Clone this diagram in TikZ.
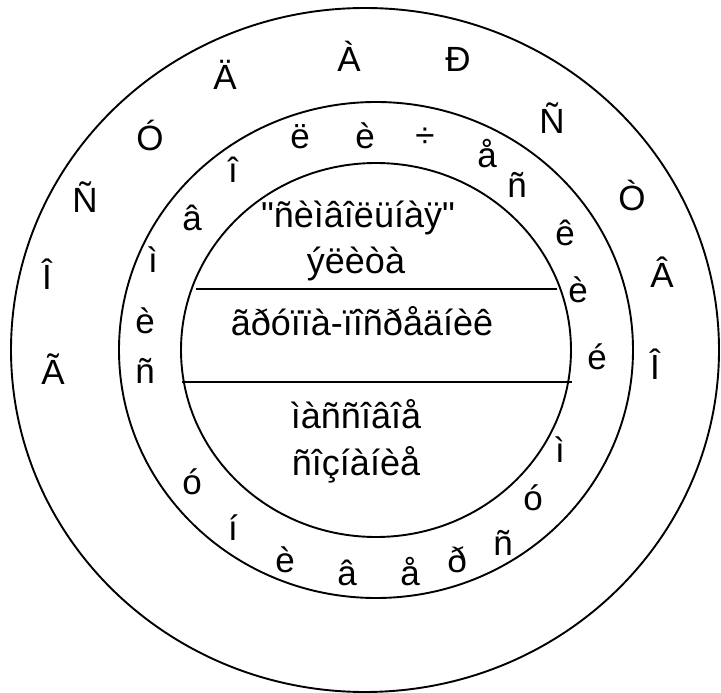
\documentclass[tikz,border=0pt]{standalone}
\usepackage{fontspec}
\setmainfont{Liberation Sans}[Ligatures=TeXOff]
\tikzset{
  ring/.style={line width=1.9pt},
  lbl/.style={anchor=base, inner sep=0pt, font=\fontsize{35}{40}\selectfont},
  centertext/.style={anchor=base, inner sep=0pt, font=\fontsize{36}{40}\selectfont},
}
\begin{document}
\begin{tikzpicture}[x=1pt,y=-1pt]
\useasboundingbox (0,0) rectangle (721,693);
% rings
\draw[ring] (365,350) ellipse [x radius=354pt, y radius=342pt];
\draw[ring] (376,350) ellipse [x radius=257pt, y radius=248pt];
\draw[ring] (376,350) ellipse [x radius=195pt, y radius=187pt];
% dividing lines
\coordinate (l1a) at (196,289);
\coordinate (l1b) at (557,289);
\coordinate (l2a) at (182,382);
\coordinate (l2b) at (572,382);
\draw[ring] (l1a) -- (l1b);
\draw[ring] (l2a) -- (l2b);
% inner texts
\node[centertext] (t1) at (358,227) {"ñèìâîëüíàÿ"};
\node[centertext] (t2) at (356,273) {ýëèòà};
\node[centertext] (t3) at (362,335) {ãðóïïà-ïîñðåäíèê};
\node[centertext] (t4) at (356,428) {ìàññîâîå};
\node[centertext] (t5) at (356,475) {ñîçíàíèå};
% outer ring letters
\node[lbl] (o1) at (53,384) {Ã};
\node[lbl] (o2) at (47,289) {Î};
\node[lbl] (o3) at (85,212) {Ñ};
\node[lbl] (o4) at (150,150) {Ó};
\node[lbl] (o5) at (225,89) {Ä};
\node[lbl] (o6) at (349,72) {À};
\node[lbl] (o7) at (458,72) {Ð};
\node[lbl] (o8) at (552,134) {Ñ};
\node[lbl] (o9) at (632,210) {Ò};
\node[lbl] (o10) at (662,287) {Â};
\node[lbl] (o11) at (655,379) {Î};
% middle ring letters (top)
\node[lbl] (m1) at (145,383) {ñ};
\node[lbl] (m2) at (145,333) {è};
\node[lbl] (m3) at (153,272) {ì};
\node[lbl] (m4) at (192,230) {â};
\node[lbl] (m5) at (233,182) {î};
\node[lbl] (m6) at (300,149) {ë};
\node[lbl] (m7) at (365,149) {è};
\node[lbl] (m8) at (425,147) {÷};
\node[lbl] (m9) at (487,167) {å};
\node[lbl] (m10) at (517,197) {ñ};
\node[lbl] (m11) at (565,245) {ê};
\node[lbl] (m12) at (578,302) {è};
\node[lbl] (m13) at (597,369) {é};
% middle ring letters (bottom)
\node[lbl] (b1) at (192,494) {ó};
\node[lbl] (b2) at (233,540) {í};
\node[lbl] (b3) at (285,572) {è};
\node[lbl] (b4) at (347,585) {â};
\node[lbl] (b5) at (410,585) {å};
\node[lbl] (b6) at (457,572) {ð};
\node[lbl] (b7) at (503,555) {ñ};
\node[lbl] (b8) at (533,510) {ó};
\node[lbl] (b9) at (560,462) {ì};
\end{tikzpicture}
\end{document}
